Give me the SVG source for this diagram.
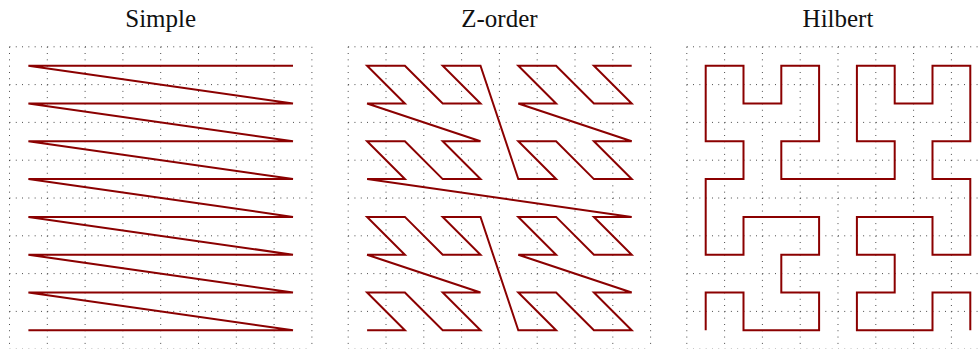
<svg xmlns="http://www.w3.org/2000/svg" width="979" height="349" viewBox="0 0 979 349">
<style>
.title{font-family:"Liberation Serif","Times New Roman",serif;font-size:25px;fill:#111;text-anchor:middle}
.grid{fill:none;stroke:#222;stroke-width:0.9;stroke-dasharray:0.9 5.4}
.curve{fill:none;stroke:#8b0000;stroke-width:2;vector-effect:non-scaling-stroke;stroke-linejoin:miter}
</style>
<defs>
<path id="gridpath" class="grid" d="M0,0V302.4M37.8,0V302.4M75.6,0V302.4M113.4,0V302.4M151.2,0V302.4M189,0V302.4M226.8,0V302.4M264.6,0V302.4M302.4,0V302.4M0,0H302.4M0,37.8H302.4M0,75.6H302.4M0,113.4H302.4M0,151.2H302.4M0,189H302.4M0,226.8H302.4M0,264.6H302.4M0,302.4H302.4"/>
</defs>
<g id="simple">
<text class="title" x="160.7" y="27">Simple</text>
<use href="#gridpath" x="9.5" y="46.8"/>
<polyline class="curve" transform="translate(28.4,65.7) scale(37.8)" points="0,7 7,7 0,6 7,6 0,5 7,5 0,4 7,4 0,3 7,3 0,2 7,2 0,1 7,1 0,0 7,0"/>
</g>
<g id="zorder">
<text class="title" x="499.4" y="27">Z-order</text>
<use href="#gridpath" x="348.2" y="46.8"/>
<polyline class="curve" transform="translate(367.1,65.7) scale(37.8)" points="0,7 1,7 0,6 1,6 2,7 3,7 2,6 3,6 0,5 1,5 0,4 1,4 2,5 3,5 2,4 3,4 4,7 5,7 4,6 5,6 6,7 7,7 6,6 7,6 4,5 5,5 4,4 5,4 6,5 7,5 6,4 7,4 0,3 1,3 0,2 1,2 2,3 3,3 2,2 3,2 0,1 1,1 0,0 1,0 2,1 3,1 2,0 3,0 4,3 5,3 4,2 5,2 6,3 7,3 6,2 7,2 4,1 5,1 4,0 5,0 6,1 7,1 6,0 7,0"/>
</g>
<g id="hilbert">
<text class="title" x="838" y="27">Hilbert</text>
<use href="#gridpath" x="686.8" y="46.8"/>
<polyline class="curve" transform="translate(705.7,65.7) scale(37.8)" points="0,7 0,6 1,6 1,7 2,7 3,7 3,6 2,6 2,5 3,5 3,4 2,4 1,4 1,5 0,5 0,4 0,3 1,3 1,2 0,2 0,1 0,0 1,0 1,1 2,1 2,0 3,0 3,1 3,2 2,2 2,3 3,3 4,3 5,3 5,2 4,2 4,1 4,0 5,0 5,1 6,1 6,0 7,0 7,1 7,2 6,2 6,3 7,3 7,4 7,5 6,5 6,4 5,4 4,4 4,5 5,5 5,6 4,6 4,7 5,7 6,7 6,6 7,6 7,7"/>
</g>
</svg>
